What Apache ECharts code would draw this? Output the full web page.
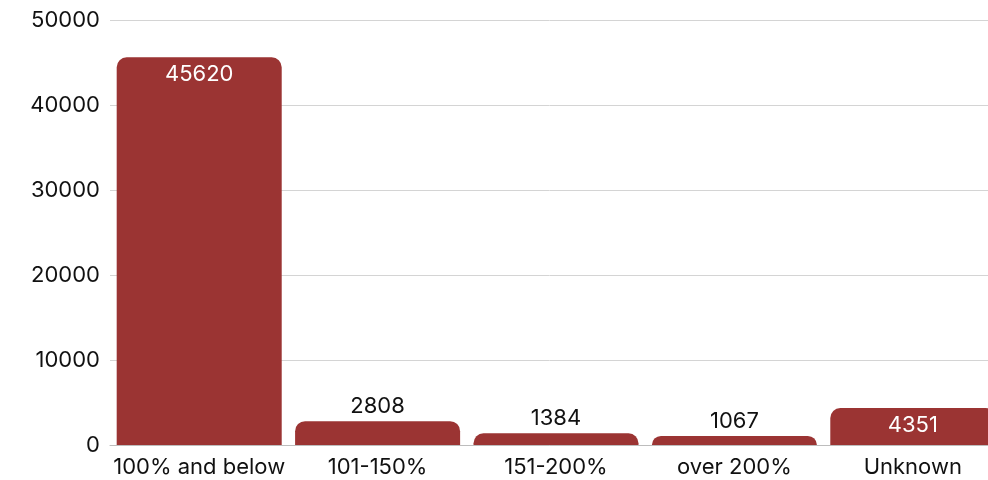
<!DOCTYPE html>
<html>
<head>
<meta charset="utf-8">
<script src="https://cdn.jsdelivr.net/npm/echarts@6/dist/echarts.min.js"></script>
<style>
  html, body { margin: 0; padding: 0; background: #fff; }
  #chart { width: 988px; height: 480px; }
</style>
</head>
<body>
<div id="chart"></div>
<script>
const categories = ['100% and below', '101-150%', '151-200%', 'over 200%', 'Unknown']
const values = [45620, 2808, 1384, 1067, 4351]
// labels drawn inside the bar (white) vs above it (black)
const labelInside = [true, false, false, false, true]

const chart = echarts.init(document.getElementById('chart'))
const font = 'Inter, "Noto Sans", sans-serif'

const option = {
  animation: false,
  // plot runs past the right edge, the last bar is cut off like in the source
  grid: { left: 110, width: 892, top: 20, bottom: 35, outerBoundsMode: 'none' },
  xAxis: {
    type: 'category',
    data: categories,
    axisTick: { show: false },
    axisLine: { lineStyle: { color: '#bdbdbd' } },
    axisLabel: { fontSize: 22, color: '#111', fontFamily: font, margin: 11, interval: 0 }
  },
  yAxis: {
    type: 'value',
    min: 0,
    max: 50000,
    interval: 10000,
    axisLabel: { fontSize: 22, color: '#111', fontFamily: font, margin: 10, formatter: v => String(v) },
    splitLine: { lineStyle: { color: '#d4d4d4' } }
  },
  series: [{
    type: 'bar',
    barCategoryGap: '7.5%',
    data: values.map((v, i) => ({
      value: v,
      label: labelInside[i]
        ? { position: 'insideTop', color: '#fff', distance: 6 }
        : { position: 'top', color: '#111', distance: 4 }
    })),
    itemStyle: { color: '#9b3433', borderRadius: [10, 10, 0, 0] },
    label: { show: true, fontSize: 22, fontFamily: font }
  }]
}

chart.setOption(option)
</script>
</body>
</html>
